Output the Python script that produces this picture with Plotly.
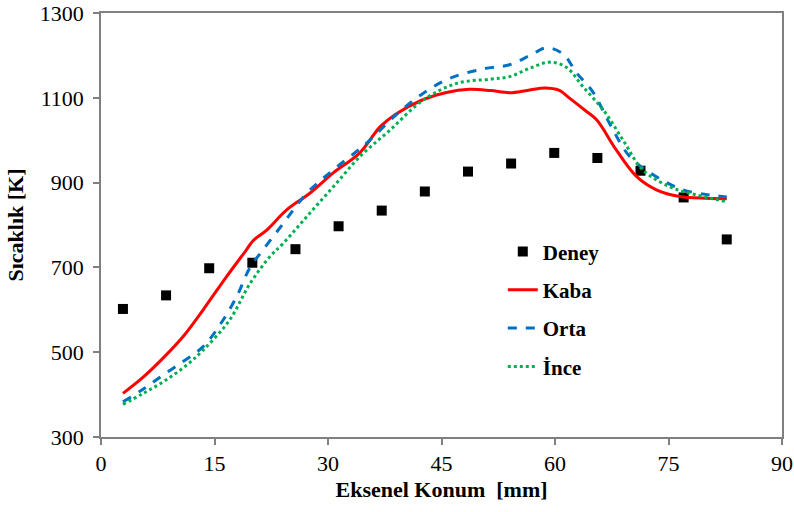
import plotly.graph_objects as go

# Experimental data (Deney)
deney_x = [2.9, 8.6, 14.3, 20.0, 25.7, 31.4, 37.1, 42.8, 48.5, 54.2, 59.9, 65.6, 71.3, 77.0, 82.7]
deney_y = [602, 634, 698, 711, 743, 797, 834, 879, 926, 945, 970, 958, 928, 865, 766]

# Kaba (coarse)
kaba_x = [2.9, 5.5, 8.2, 11.0, 13.5, 16.5, 19.2, 20.1, 21.9, 24.5, 27.6, 30.7, 34.2, 36.9, 39.0,
          42.6, 45.5, 48.7, 51.5, 54.0, 56.5, 58.7, 60.5, 62.0, 64.0, 65.5, 68.1, 70.8, 73.4, 76.5, 80.0, 82.7]
kaba_y = [403, 440, 486, 540, 600, 676, 741, 763, 788, 835, 875, 923, 970, 1032, 1062,
          1096, 1112, 1120, 1117, 1112, 1118, 1123, 1118, 1098, 1070, 1048, 977, 914, 883, 867, 863, 862]

# Orta (medium)
orta_x = [2.9, 5.5, 8.2, 11.0, 13.5, 15.7, 17.9, 19.7, 21.4, 24.1, 27.2, 30.7, 35.1, 39.0, 42.6,
          46.1, 50.5, 54.0, 56.7, 58.9, 61.1, 62.8, 65.0, 67.2, 69.9, 73.4, 76.9, 80.4, 82.7]
orta_y = [383, 412, 446, 480, 513, 564, 630, 700, 741, 804, 875, 930, 993, 1060, 1111,
          1146, 1168, 1178, 1200, 1218, 1203, 1160, 1114, 1040, 961, 914, 883, 871, 866]

# İnce (fine)
ince_x = [2.9, 5.5, 8.2, 11.0, 13.5, 17.0, 19.7, 22.3, 24.1, 27.2, 30.7, 34.2, 38.2, 42.6, 47.0,
          51.4, 54.0, 56.7, 59.3, 61.5, 63.7, 66.4, 69.0, 71.6, 75.2, 78.7, 82.7]
ince_y = [377, 402, 430, 465, 505, 576, 662, 725, 757, 820, 890, 961, 1024, 1095, 1134,
          1144, 1150, 1170, 1184, 1172, 1126, 1071, 1000, 930, 890, 871, 855]

serif = "Liberation Serif"

fig = go.Figure()
fig.add_trace(go.Scatter(x=deney_x, y=deney_y, mode="markers", name="<b>Deney</b>",
                         marker=dict(symbol="square", size=10, color="black"),
                         legendgroup="a"))
fig.add_trace(go.Scatter(x=kaba_x, y=kaba_y, mode="lines", name="<b>Kaba</b>",
                         line=dict(color="#ff0000", width=3, shape="spline"),
                         legendgroup="b"))
fig.add_trace(go.Scatter(x=orta_x, y=orta_y, mode="lines", name="<b>Orta</b>",
                         line=dict(color="#0070c0", width=3, dash="dash", shape="spline"),
                         legendgroup="c"))
fig.add_trace(go.Scatter(x=ince_x, y=ince_y, mode="lines", name="<b>İnce</b>",
                         line=dict(color="#00b050", width=3, dash="dot", shape="spline"),
                         legendgroup="d"))

fig.update_layout(
    width=794, height=512,
    margin=dict(l=101, r=12, t=13, b=75),
    plot_bgcolor="white",
    xaxis=dict(tickfont=dict(family=serif, size=22),
               title=dict(text="<b>Eksenel Konum  [mm]</b>", standoff=6,
                          font=dict(family=serif, size=22))),
    yaxis=dict(tickfont=dict(family=serif, size=22),
               title=dict(text="<b>Sıcaklık [K]</b>", standoff=10,
                          font=dict(family=serif, size=22))),
    legend=dict(x=0.59, y=0.485, xanchor="left", yanchor="top",
                bgcolor="rgba(0,0,0,0)", font=dict(family=serif, size=21),
                tracegroupgap=8),
)
fig.update_xaxes(range=[0, 90], tickvals=[0, 15, 30, 45, 60, 75, 90])
fig.update_yaxes(range=[300, 1300], tickvals=[300, 500, 700, 900, 1100, 1300])
fig.update_xaxes(showline=True, linecolor="#808080", linewidth=1.5, mirror=True,
                 ticks="outside", ticklen=6, tickcolor="#808080", tickwidth=1.5,
                 showgrid=False, zeroline=False, automargin=False)
fig.update_yaxes(showline=True, linecolor="#808080", linewidth=1.5, mirror=True,
                 ticks="outside", ticklen=6, tickcolor="#808080", tickwidth=1.5,
                 showgrid=False, zeroline=False, automargin=False, ticklabelstandoff=5)
fig.update_layout(font_color="#000000")

fig.write_html("out.html")
